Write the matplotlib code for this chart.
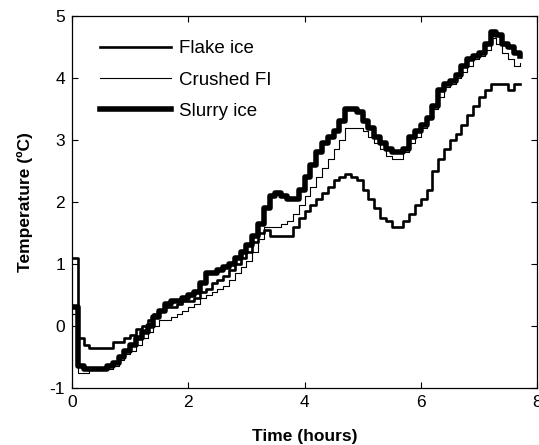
import matplotlib
matplotlib.use("Agg")
import matplotlib.pyplot as plt
import numpy as np

plt.rcParams['font.family'] = ['Liberation Sans', 'DejaVu Sans']
plt.rcParams['axes.unicode_minus'] = False

# Time (hours), sampled every 0.1 h
time_h = [round(0.1 * i, 1) for i in range(78)]

flake_ice = [1.1, -0.2, -0.3, -0.35, -0.35, -0.35, -0.35, -0.25, -0.25, -0.2,
             -0.15, -0.05, 0.0, 0.1, 0.2, 0.25, 0.3, 0.3, 0.35, 0.4,
             0.4, 0.45, 0.55, 0.6, 0.7, 0.75, 0.8, 0.9, 1.0, 1.1,
             1.2, 1.35, 1.5, 1.55, 1.45, 1.45, 1.45, 1.45, 1.6, 1.75,
             1.85, 1.95, 2.05, 2.15, 2.25, 2.35, 2.4, 2.45, 2.4, 2.35,
             2.2, 2.05, 1.9, 1.75, 1.7, 1.6, 1.6, 1.7, 1.8, 1.95,
             2.05, 2.2, 2.5, 2.7, 2.85, 3.0, 3.1, 3.25, 3.4, 3.55,
             3.7, 3.8, 3.9, 3.9, 3.9, 3.8, 3.9, 3.9]

crushed_fi = [0.2, -0.75, -0.75, -0.7, -0.7, -0.7, -0.7, -0.65, -0.55, -0.45,
              -0.4, -0.3, -0.2, -0.1, 0.0, 0.1, 0.1, 0.15, 0.2, 0.25,
              0.3, 0.35, 0.45, 0.5, 0.55, 0.6, 0.65, 0.75, 0.85, 0.95,
              1.05, 1.2, 1.4, 1.6, 1.6, 1.6, 1.65, 1.7, 1.8, 1.95,
              2.1, 2.25, 2.4, 2.55, 2.7, 2.85, 3.0, 3.2, 3.2, 3.2,
              3.15, 3.05, 2.95, 2.85, 2.75, 2.7, 2.7, 2.8, 2.95, 3.05,
              3.2, 3.35, 3.5, 3.7, 3.85, 3.9, 4.0, 4.1, 4.2, 4.3,
              4.35, 4.45, 4.65, 4.55, 4.4, 4.3, 4.2, 4.25]

slurry_ice = [0.3, -0.65, -0.7, -0.7, -0.7, -0.7, -0.65, -0.6, -0.5, -0.4,
              -0.3, -0.2, -0.1, 0.0, 0.15, 0.25, 0.35, 0.4, 0.4, 0.45,
              0.5, 0.55, 0.7, 0.85, 0.85, 0.9, 0.95, 1.0, 1.1, 1.2,
              1.3, 1.45, 1.65, 1.9, 2.1, 2.15, 2.1, 2.05, 2.05, 2.2,
              2.4, 2.6, 2.8, 2.95, 3.05, 3.15, 3.3, 3.5, 3.5, 3.45,
              3.3, 3.2, 3.05, 2.95, 2.85, 2.8, 2.8, 2.85, 3.05, 3.15,
              3.25, 3.35, 3.55, 3.8, 3.9, 3.95, 4.05, 4.2, 4.3, 4.35,
              4.4, 4.55, 4.75, 4.7, 4.55, 4.5, 4.4, 4.35]

x_ticks = [0, 2, 4, 6, 8]
y_ticks = [-1, 0, 1, 2, 3, 4, 5]

fig = plt.figure(figsize=(5.39, 4.45), dpi=100)
ax = fig.add_axes([72 / 539, 57 / 445, 465 / 539, 372 / 445])

ax.plot(time_h, flake_ice, drawstyle='steps-post', color='black', lw=1.9,
        label='Flake ice')
ax.plot(time_h, crushed_fi, drawstyle='steps-post', color='black', lw=0.8,
        label='Crushed FI')
ax.plot(time_h, slurry_ice, drawstyle='steps-post', color='black', lw=4.0,
        label='Slurry ice')

ax.set_xlim(0, 8)
ax.set_ylim(-1, 5)
ax.set_xticks(x_ticks)
ax.set_yticks(y_ticks)
ax.tick_params(direction='in', top=True, right=True, length=4.5, width=0.8,
               labelsize=12.5, colors='black', pad=5)
for s in ax.spines.values():
    s.set_linewidth(0.9)

ax.set_xlabel('Time (hours)', fontsize=12.5, fontweight='bold', labelpad=14)
ax.set_ylabel('Temperature (ºC)', fontsize=12.5, fontweight='bold', labelpad=12)

leg = ax.legend(loc='upper left', frameon=False, fontsize=13.5,
                handlelength=3.8, handletextpad=0.4, labelspacing=0.76,
                borderaxespad=0.0, borderpad=0.0,
                bbox_to_anchor=(0.06, 0.935))

fig.savefig('out.png', dpi=100)
